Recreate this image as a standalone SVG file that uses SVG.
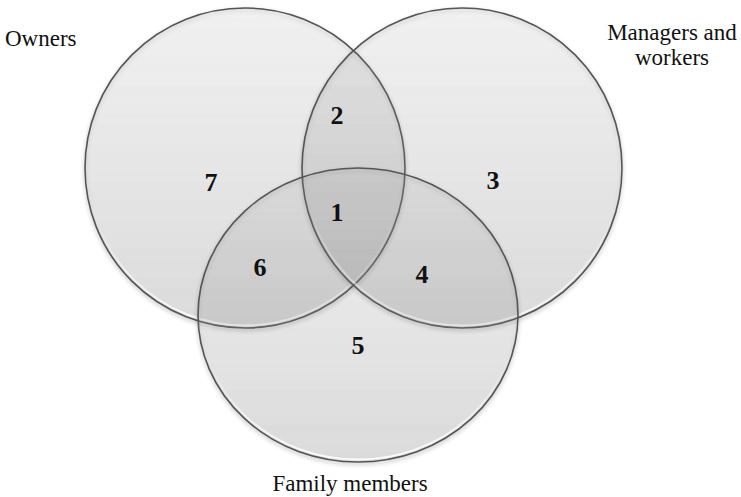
<svg xmlns="http://www.w3.org/2000/svg" width="741" height="497" viewBox="0 0 741 497">
<defs>
<linearGradient id="g" x1="0" y1="0" x2="0" y2="1">
<stop offset="0" stop-color="#9a9a9a" stop-opacity="0.10"/>
<stop offset="1" stop-color="#8a8a8a" stop-opacity="0.23"/>
</linearGradient>
<linearGradient id="hl" x1="0" y1="0" x2="0" y2="1">
<stop offset="0.6" stop-color="#ffffff" stop-opacity="0"/>
<stop offset="1" stop-color="#ffffff" stop-opacity="0.9"/>
</linearGradient>
<filter id="sh" x="-10%" y="-10%" width="120%" height="120%">
<feGaussianBlur in="SourceAlpha" stdDeviation="2"/>
<feOffset dy="2" result="b"/>
<feComponentTransfer><feFuncA type="linear" slope="0.3"/></feComponentTransfer>
<feMerge><feMergeNode/><feMergeNode in="SourceGraphic"/></feMerge>
</filter>
</defs>
<style>
.c{fill:url(#g);stroke:#555555;stroke-width:1.6}
.h{fill:none;stroke:url(#hl);stroke-width:2}
.lab{font-family:"Liberation Serif","Times New Roman",serif;font-size:23px;fill:#111111}
.num{font-family:"Liberation Serif","Times New Roman",serif;font-size:26px;font-weight:bold;fill:#111111;text-anchor:middle}
</style>
<rect width="741" height="497" fill="#ffffff"/>
<g id="owners">
<circle class="c" cx="245" cy="168" r="160" filter="url(#sh)"/>
<circle class="h" cx="245" cy="168" r="157.5"/>
<text class="lab" x="5" y="46">Owners</text>
</g>
<g id="managers">
<circle class="c" cx="462" cy="168" r="160" filter="url(#sh)"/>
<circle class="h" cx="462" cy="168" r="157.5"/>
<text class="lab" x="672" y="40" text-anchor="middle">Managers and</text>
<text class="lab" x="672" y="65" text-anchor="middle">workers</text>
</g>
<g id="family">
<ellipse class="c" cx="358" cy="315" rx="160" ry="147" filter="url(#sh)"/>
<ellipse class="h" cx="358" cy="315" rx="157.5" ry="144.5"/>
<text class="lab" x="350" y="491" text-anchor="middle">Family members</text>
</g>
<g id="regions">
<text class="num" x="211" y="191">7</text>
<text class="num" x="337" y="124">2</text>
<text class="num" x="337" y="221">1</text>
<text class="num" x="493" y="189">3</text>
<text class="num" x="260" y="276">6</text>
<text class="num" x="422" y="283">4</text>
<text class="num" x="358" y="354">5</text>
</g>
<g id="connectors"/>
</svg>
